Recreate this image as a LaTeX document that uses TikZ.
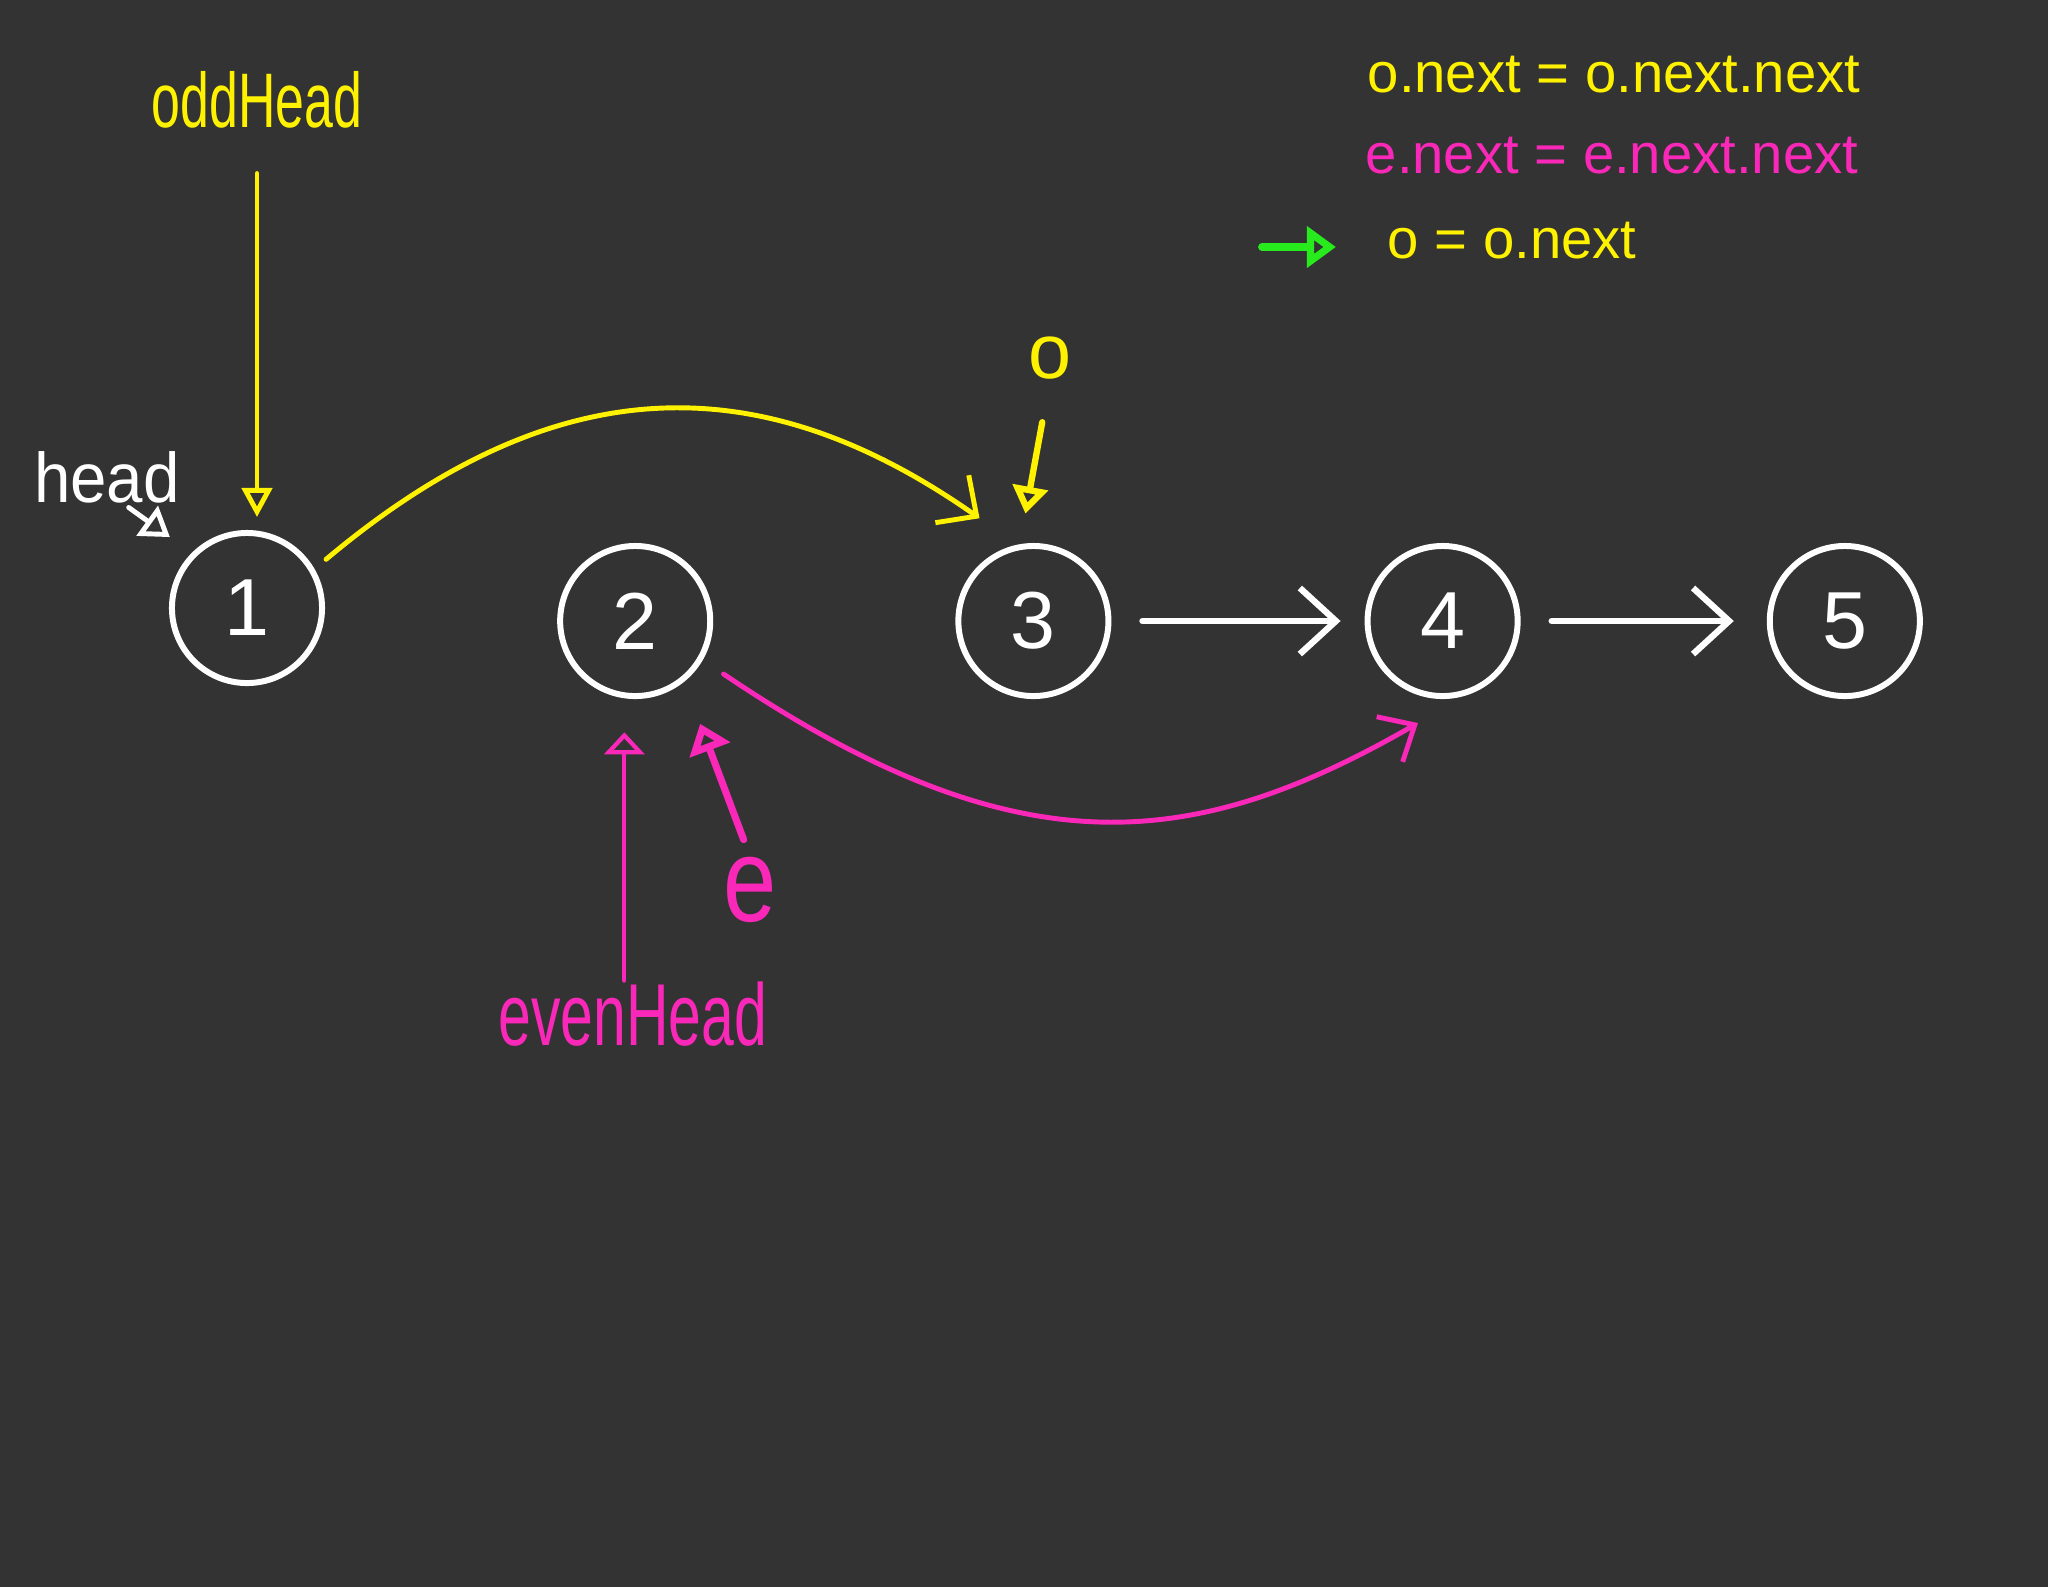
\documentclass[tikz,border=0pt]{standalone}
\usepackage{graphicx}
\usepackage{fontspec}
\setmainfont{Liberation Sans}
\usetikzlibrary{arrows.meta,positioning}

\definecolor{board}{RGB}{51,51,51}
\definecolor{chalkyellow}{RGB}{255,242,0}
\definecolor{chalkpink}{RGB}{250,40,185}
\definecolor{chalkgreen}{RGB}{40,235,30}

\newcommand{\narrow}[2]{\scalebox{#1}[1]{#2}}

\tikzset{
    num/.style={circle,draw=white,line width=1.7pt,minimum size=1.5cm,inner sep=0pt,text=white,font=\fontsize{23}{23}\selectfont},
    lbl/.style={inner sep=0pt,anchor=base},
    nextarrow/.style={draw=white,line width=1.8pt,line cap=round,-{Straight Barb[length=0.36cm,width=0.66cm]}},
    ptr/.style={line width=1.4pt,line cap=round},
}

\begin{document}
\begin{tikzpicture}[x=0.01cm,y=-0.01cm]
    \fill[board] (0,0) rectangle (2048,1587);
    \node[num](n1) at (247,608){1};
    \node[num](n2)[right=2.32cm of n1,yshift=-0.13cm]{2};
    \node[num](n3)[right=2.42cm of n2]{3};
    \node[num](n4)[right=2.53cm of n3]{4};
    \node[num](n5)[right=2.46cm of n4]{5};
    \node[lbl,text=white,font=\fontsize{20}{20}\selectfont](head) at (107,502){\narrow{0.93}{head}};
    \node[lbl,text=chalkyellow,font=\fontsize{22}{22}\selectfont](odd) at (257,127){\narrow{0.67}{oddHead}};
    \node[lbl,text=chalkpink,font=\fontsize{25}{25}\selectfont](even) at (633,1045){\narrow{0.67}{evenHead}};
    \node[inner sep=0pt,text=chalkyellow,font=\fontsize{22}{22}\selectfont](o) at (1050,358){o};
    \node[inner sep=0pt,text=chalkpink,font=\fontsize{34}{34}\selectfont](e) at (750,890){\narrow{0.8}{e}};
    \node[lbl,anchor=base west,text=chalkyellow,font=\fontsize{16}{16}\selectfont](ln1) at (1367,92){o.next = o.next.next};
    \node[lbl,anchor=base west,text=chalkpink,font=\fontsize{16}{16}\selectfont](ln2) at (1365,173){e.next = e.next.next};
    \node[lbl,anchor=base west,text=chalkyellow,font=\fontsize{16}{16}\selectfont](ln3) at (1387,258){o = o.next};
    \coordinate (g0) at (1262,247);
    \coordinate (e4) at (1418,723);
    \draw[ptr,chalkyellow,-{Triangle[open,length=0.29cm,width=0.3cm]},shorten <=0.45cm,shorten >=0.13cm] (odd.south) -- (odd.south |- n1.north);
    \draw[ptr,white,-{Triangle[open,length=0.28cm,width=0.36cm]},shorten <=0.07cm,shorten >=0.27cm] ([xshift=0.16cm]head.south) -- (n1.135);
    \draw[ptr,chalkyellow,-{Straight Barb[length=0.3cm,width=0.58cm]},shorten <=0.15cm,shorten >=0.46cm] (n1.30) .. controls (555,367) and (760,364) .. (n3.102);
    \draw[ptr,chalkyellow,line width=1.8pt,-{Triangle[open,length=0.27cm,width=0.35cm]},shorten <=0.43cm,shorten >=0.31cm] (o.south) -- (n3.100);
    \draw[nextarrow,shorten <=0.31cm,shorten >=0.24cm] (n3) -- (n4);
    \draw[nextarrow,shorten <=0.31cm,shorten >=0.33cm] (n4) -- (n5);
    \draw[ptr,chalkpink,-{Straight Barb[length=0.29cm,width=0.52cm]},shorten <=0.25cm] (n2.-30) .. controls (1017,872) and (1192,853) .. (e4);
    \draw[ptr,chalkpink,line width=1.2pt,-{Triangle[open,length=0.22cm,width=0.4cm]},shorten >=0.34cm] (even.north -| n2.262) -- (n2.262);
    \draw[ptr,chalkpink,line width=2pt,-{Triangle[open,length=0.28cm,width=0.42cm]},shorten <=0.18cm,shorten >=0.45cm] (e.north) -- (n2.309);
    \draw[ptr,chalkgreen,line width=2.2pt,-{Triangle[open,length=0.29cm,width=0.4cm]},shorten >=0.51cm] (g0) -- (g0 -| ln3.west);
\end{tikzpicture}
\end{document}
